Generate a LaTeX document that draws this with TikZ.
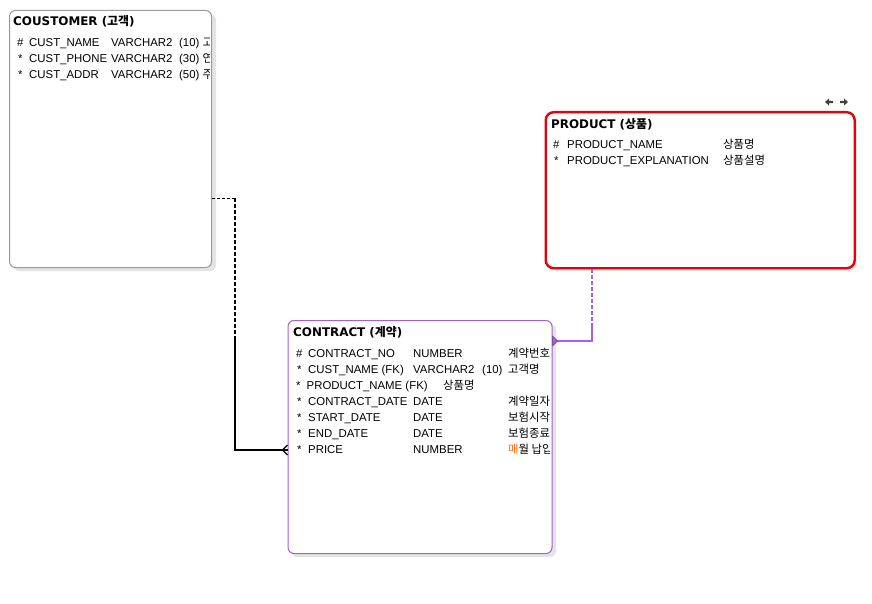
\documentclass[tikz,border=0pt]{standalone}
\usepackage{fontspec}
\setmainfont{Liberation Sans}
\newfontfamily\kr{Noto Sans CJK KR}
\newfontfamily\ttlfont{DejaVu Sans}
\usetikzlibrary{arrows.meta}
\definecolor{custgray}{HTML}{9A9A9A}
\definecolor{shadowgray}{HTML}{E4E4E4}
\definecolor{prodred}{HTML}{E8000B}
\definecolor{conpurple}{HTML}{A25FD8}
\definecolor{relpurple}{HTML}{A95EEA}
\definecolor{reldark}{HTML}{5E3A80}
\begin{document}
\begin{tikzpicture}[x=1pt,y=-1pt,
  txt/.style={anchor=base west, inner sep=0pt, font=\fontsize{11.4}{13}\selectfont, text=black},
  ttl/.style={anchor=base west, inner sep=0pt, font=\ttlfont\fontsize{11.9}{13}\selectfont\bfseries, text=black},
  entbox/.style={rounded corners=6pt, fill=white},
  shadowbox/.style={rounded corners=6pt, fill=shadowgray, draw=none},
  rel/.style={line width=1.8pt},
  icon/.style={draw=none, fill=black!75}
]
\useasboundingbox (0,0) rectangle (872,604);

% ---------- CUSTOMER ----------
\fill[shadowbox] (13,14) rectangle (216,271);
\node[entbox, draw=custgray, line width=1pt, anchor=north west, minimum width=202pt, minimum height=257pt, inner sep=0pt] (cust) at (9,10) {};
\node[ttl] (custT) at (13,26) {COUSTOMER ({\kr\bfseries 고객})};
\begin{scope}
\clip (10,30) rectangle (209,100);
\node[txt] (c1s) at (17,47) {\#};
\node[txt] (c1n) at (29,47) {CUST\_NAME};
\node[txt] (c1t) at (111,47) {VARCHAR2};
\node[txt] (c1l) at (179,47) {(10) {\kr 고객명}};
\node[txt] (c2s) at (18,63) {*};
\node[txt] (c2n) at (29,63) {CUST\_PHONE};
\node[txt] (c2t) at (111,63) {VARCHAR2};
\node[txt] (c2l) at (179,63) {(30) {\kr 연락처}};
\node[txt] (c3s) at (18,79) {*};
\node[txt] (c3n) at (29,79) {CUST\_ADDR};
\node[txt] (c3t) at (111,79) {VARCHAR2};
\node[txt] (c3l) at (179,79) {(50) {\kr 주소}};
\end{scope}

% ---------- PRODUCT ----------
\fill[shadowbox, rounded corners=8pt] (548,115) rectangle (857,271);
\node[entbox, rounded corners=8pt, draw=prodred, line width=2.4pt, anchor=north west, minimum width=309pt, minimum height=156pt, inner sep=0pt] (prod) at (544.5,111) {};
\node[ttl] (prodT) at (551,129) {PRODUCT ({\kr\bfseries 상품})};
\node[txt] (p1s) at (553,149) {\#};
\node[txt] (p1n) at (567,149) {PRODUCT\_NAME};
\node[txt] (p1k) at (723,149) {\kr 상품명};
\node[txt] (p2s) at (554,165) {*};
\node[txt] (p2n) at (567,165) {PRODUCT\_EXPLANATION};
\node[txt] (p2k) at (723,165) {\kr 상품설명};
% small arrow icons
\fill[icon] (825,102) -- (829,98.5) -- (829,100.8) -- (833,100.8) -- (833,103.2) -- (829,103.2) -- (829,105.5) -- cycle;
\fill[icon] (848,102) -- (844,98.5) -- (844,100.8) -- (840,100.8) -- (840,103.2) -- (844,103.2) -- (844,105.5) -- cycle;

% ---------- CONTRACT ----------
\fill[shadowbox] (291,324) rectangle (556,557);
\node[entbox, draw=conpurple, line width=1pt, anchor=north west, minimum width=264pt, minimum height=233pt, inner sep=0pt] (con) at (287.5,320) {};
\node[ttl] (conT) at (293,336) {CONTRACT ({\kr\bfseries 계약})};
\begin{scope}
\clip (289,340) rectangle (549.5,470);
\node[txt] (k1s) at (296,357) {\#};
\node[txt] (k1n) at (308,357) {CONTRACT\_NO};
\node[txt] (k1t) at (413,357) {NUMBER};
\node[txt] (k1k) at (508,357) {\kr 계약번호};
\node[txt] (k2s) at (297,373) {*};
\node[txt] (k2n) at (308,373) {CUST\_NAME (FK)};
\node[txt] (k2t) at (413,373) {VARCHAR2};
\node[txt] (k2l) at (482,373) {(10)};
\node[txt] (k2k) at (508,373) {\kr 고객명};
\node[txt] (k3s) at (296,389) {*};
\node[txt] (k3n) at (306.5,389) {PRODUCT\_NAME (FK)};
\node[txt] (k3k) at (443,389) {\kr 상품명};
\node[txt] (k4s) at (297,405.5) {*};
\node[txt] (k4n) at (308,405.5) {CONTRACT\_DATE};
\node[txt] (k4t) at (413,405.5) {DATE};
\node[txt] (k4k) at (508,405.5) {\kr 계약일자};
\node[txt] (k5s) at (297,421.5) {*};
\node[txt] (k5n) at (308,421.5) {START\_DATE};
\node[txt] (k5t) at (413,421.5) {DATE};
\node[txt] (k5k) at (508,421.5) {\kr 보험시작일};
\node[txt] (k6s) at (297,437.5) {*};
\node[txt] (k6n) at (308,437.5) {END\_DATE};
\node[txt] (k6t) at (413,437.5) {DATE};
\node[txt] (k6k) at (508,437.5) {\kr 보험종료일};
\node[txt] (k7s) at (297,453.5) {*};
\node[txt] (k7n) at (308,453.5) {PRICE};
\node[txt] (k7t) at (413,453.5) {NUMBER};
\node[txt] (k7k) at (508,453.5) {{\kr\textcolor{orange!80!red}{매}월 납입금}};
\end{scope}

% ---------- relation CUSTOMER -> CONTRACT ----------
\coordinate (a1) at (235,198);
\coordinate (a2) at (235,337);
\coordinate (a3) at (235,450);
\coordinate (a4) at (282.5,450);
\draw[black, line width=1pt, dash pattern=on 3pt off 2pt] (cust.east |- a1) -- (a1);
\draw[black, line width=1.8pt, dash pattern=on 4pt off 2pt] (a1) -- (a2);
\draw[black, rel] (a2) -- (a3) -- (con.west |- a3);
\draw[black, line width=1.3pt] (con.west |- 0,445) -- (a4) -- (con.west |- 0,455);

% ---------- relation PRODUCT -> CONTRACT ----------
\coordinate (b1) at (592,323);
\coordinate (b2) at (592,341);
\draw[reldark, line width=2.8pt, dash pattern=on 4pt off 2pt] (prod.south -| b1) -- (b1);
\draw[relpurple, line width=1.9pt, dash pattern=on 4pt off 2pt] (prod.south -| b1) -- (b1);
\draw[reldark, line width=2.8pt] (b1) -- (b2) -- (con.east |- b2);
\draw[relpurple, line width=1.9pt] (b1) -- (b2) -- (con.east |- b2);
\fill[relpurple, draw=reldark, line width=0.5pt] (con.east |- 0,336) -- (557.5,341) -- (con.east |- 0,346) -- cycle;
\end{tikzpicture}
\end{document}
